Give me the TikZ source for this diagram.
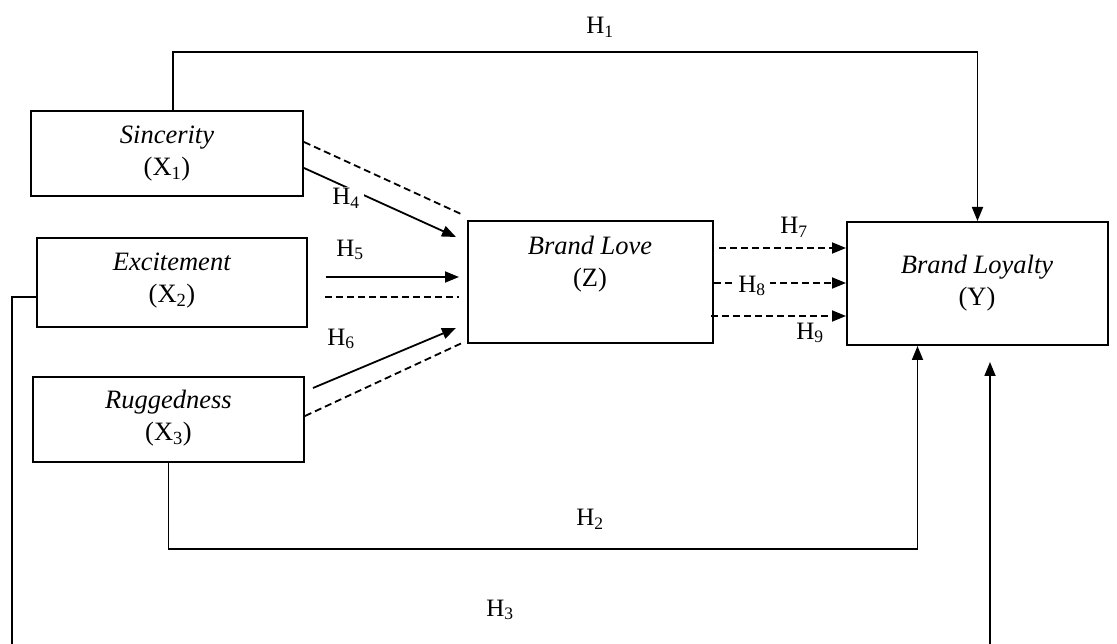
\documentclass[tikz,border=0pt]{standalone}
\usepackage{fontspec}
\setmainfont{Liberation Serif}
\usetikzlibrary{arrows.meta,calc}
\begin{document}
\begin{tikzpicture}[x=1pt,y=-1pt,
  box/.style={draw,line width=2pt,inner sep=0pt},
  txt/.style={align=center,font=\fontsize{26.5}{32}\selectfont,inner sep=0pt},
  hl/.style={font=\fontsize{25}{28}\selectfont,inner sep=1pt},
  hlw/.style={hl,fill=white,inner xsep=4pt},
  conn/.style={line width=1.8pt},
  arr/.style={conn,-{Triangle[length=14pt,width=11pt]}},
  darr/.style={arr,dash pattern=on 7pt off 4pt},
  dline/.style={conn,dash pattern=on 7pt off 4pt}]
\useasboundingbox (0,0) rectangle (1117,644);
% boxes
\node[box,minimum width=272pt,minimum height=85pt] (x1) at (167,153.5) {};
\node[box,minimum width=270pt,minimum height=89pt] (x2) at (172,282.5) {};
\node[box,minimum width=271pt,minimum height=85pt] (x3) at (168.5,419.5) {};
\node[box,minimum width=245pt,minimum height=122pt] (z) at (590.5,282) {};
\node[box,minimum width=261pt,minimum height=123pt] (y) at (977.5,283.5) {};
% texts
\node[txt] (x1t) at (167,154) {\textit{Sincerity}\\(X\textsubscript{1})};
\node[txt] (x2t) at (172,281) {\textit{Excitement}\\(X\textsubscript{2})};
\node[txt] (x3t) at (168.5,418) {\textit{Ruggedness}\\(X\textsubscript{3})};
\node[txt] (zt) at (590,264.5) {\textit{Brand Love}\\(Z)};
\node[txt] (yt) at (977,283.5) {\textit{Brand Loyalty}\\(Y)};
% free end
\coordinate (h3end) at (990,362);
% X -> Z
\draw[arr] ([yshift=-14.5pt]x1.east) -- ([xshift=-11pt,yshift=45pt]z.west);
\draw[dline] ([yshift=11.5pt]x1.east) -- ([xshift=-6pt,yshift=68pt]z.west);
\draw[arr] ([xshift=18pt,yshift=5.5pt]x2.east) -- ([xshift=-8pt,yshift=5pt]z.west);
\draw[dline] ([xshift=17pt,yshift=-14.5pt]x2.east) -- ([xshift=-8pt,yshift=-15pt]z.west);
\draw[arr] ([xshift=8pt,yshift=31.5pt]x3.east) -- ([xshift=-11pt,yshift=-46pt]z.west);
\draw[dline] ([yshift=3.5pt]x3.east) -- ([xshift=-5pt,yshift=-61pt]z.west);
% Z -> Y
\draw[darr] ([xshift=5pt,yshift=34pt]z.east) -- ([yshift=34pt]z.east -| y.west);
\draw[darr] ([yshift=-1pt]z.east) -- ([yshift=-1pt]z.east -| y.west);
\draw[darr] ([xshift=-3pt,yshift=-34pt]z.east) -- ([yshift=-34pt]z.east -| y.west);
% H1, H2, H3
\draw[arr] ([xshift=6pt]x1.north) -- ++(0,-58) -| (y.north);
\draw[arr] (x3.south) -- ++(0,86) -| ([xshift=-60pt]y.south);
\draw[arr] ([yshift=-14.5pt]x2.west) -| (12,660) -| (h3end);
% labels
\node[hl] (h1) at (600,27) {H\textsubscript{1}};
\node[hl] (h2) at (590,519) {H\textsubscript{2}};
\node[hl] (h3) at (500,610) {H\textsubscript{3}};
\node[hlw] (h4) at (346,198) {H\textsubscript{4}};
\node[hl] (h5) at (350,250) {H\textsubscript{5}};
\node[hl] (h6) at (341,339) {H\textsubscript{6}};
\node[hl] (h7) at (794,227) {H\textsubscript{7}};
\node[hlw] (h8) at (752,286) {H\textsubscript{8}};
\node[hl] (h9) at (810,333) {H\textsubscript{9}};
\end{tikzpicture}
\end{document}
